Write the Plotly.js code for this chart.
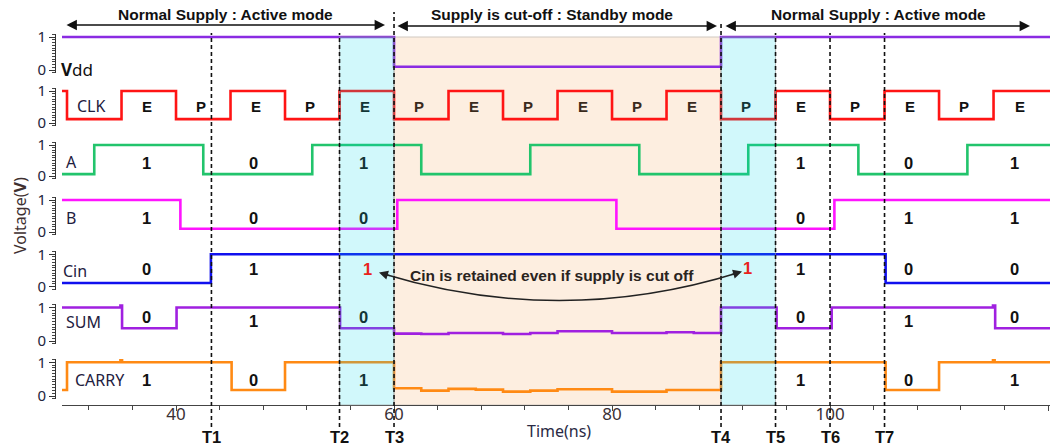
<!DOCTYPE html>
<html>
<head>
<meta charset="utf-8">
<script src="https://cdn.plot.ly/plotly-3.0.1.min.js"></script>
<style>html,body{margin:0;padding:0;background:#fff;}#chart{width:1055px;height:447px;}</style>
</head>
<body>
<div id="chart"></div>
<script>
// ---------------- data (time in ns, voltage normalised) ----------------
const vddT   = [29.54, 60, 90, 120.18];
const vddV   = [1, 0.1, 1, 1];
const clkT   = [29.54, 30, 35, 40, 45, 50, 55, 60, 65, 70, 75, 80, 85, 90, 95, 100, 105, 110, 115, 120.18];
const clkV   = [1, 0.12, 1, 0.12, 1, 0.12, 1, 0.12, 1, 0.12, 1, 0.12, 1, 0.12, 1, 0.12, 1, 0.12, 1, 1];
const aT     = [29.54, 32.5, 42.5, 52.5, 62.5, 72.5, 82.5, 92.5, 102.6, 112.6, 120.18];
const aV     = [0.06, 1, 0.06, 1, 0.06, 1, 0.06, 1, 0.06, 1, 1];
const bT     = [29.54, 40.4, 60.3, 80.4, 100.4, 120.18];
const bV     = [1, 0.1, 1, 0.1, 1, 1];
const cinT   = [29.54, 43.2, 105.1, 120.18];
const cinV   = [0.11, 1, 0.11, 0.11];
const sumT   = [29.54, 34.9, 35.05, 40.05, 55.05, 60, 62.5, 65, 70, 72.5, 75, 80, 85, 87.5, 90, 95.1, 100.15, 114.95, 115.15, 120.18];
const sumV   = [1, 1.08, 0.38, 1, 0.38, 0.22, 0.21, 0.24, 0.21, 0.24, 0.29, 0.24, 0.26, 0.24, 1, 0.38, 1, 1.08, 0.38, 0.38];
const carryT = [29.54, 30, 34.9, 35.05, 45.1, 50, 60, 62.5, 65, 67.5, 70, 72.5, 75, 80, 85, 90, 105.1, 110, 114.95, 115.1, 120.18];
const carryV = [0.18, 1, 1.1, 1, 0.18, 1, 0.23, 0.16, 0.21, 0.19, 0.13, 0.16, 0.2, 0.13, 0.18, 1, 0.18, 1, 1.1, 1, 1];

const signalNames = ['Vdd', 'CLK', 'A', 'B', 'Cin', 'SUM', 'CARRY'];
const markTimes = [43.25, 55, 60, 90, 95, 100, 105];
const markNames = ['T1', 'T2', 'T3', 'T4', 'T5', 'T6', 'T7'];
const xTickVals = [40, 60, 80, 100, 120];

// logic values written in each row (active-mode evaluation windows)
const labelTimes = [37.3, 47.1, 57.2, 97.3, 107.2, 116.9];
const aLabels     = ['1', '0', '1', '1', '0', '1'];
const bLabels     = ['1', '0', '0', '0', '1', '1'];
const cinLabels   = ['0', '1', '1', '1', '0', '0'];
const sumLabels   = ['0', '1', '0', '0', '1', '0'];
const carryLabels = ['1', '0', '1', '1', '0', '1'];
const cinRetainedTimes = [57.6, 92.4];

// ---------------- layout helpers ----------------
const W = 1055, H = 447, ML = 55, MR = 5;
const px = p => (p - ML) / (W - ML - MR);
const py = p => 1 - p / H;

// pixel rows of level "1" and level "0" per panel
const rows = [[37, 70], [91, 123], [145, 176], [200, 232], [254.3, 286.5], [307.5, 341], [362.3, 396]];
const colors = ['#8a2be2', '#ff1414', '#22c46c', '#ff14ff', '#1010ee', '#a020e0', '#ff8a14'];
const series = [[vddT, vddV], [clkT, clkV], [aT, aV], [bT, bV], [cinT, cinV], [sumT, sumV], [carryT, carryV]];

const tickFontCol = '#22243c';
const layout = {
  width: W, height: H, autosize: false,
  margin: {l: ML, r: MR, t: 0, b: 0, pad: 0},
  paper_bgcolor: '#ffffff', plot_bgcolor: 'rgba(0,0,0,0)',
  showlegend: false,
  xaxis: {
    domain: [px(62), 1], range: [29.54, 120.18], anchor: 'free', position: py(405),
    showline: true, linecolor: '#444', linewidth: 1.2, showgrid: false, zeroline: false,
    tickmode: 'array', tickvals: xTickVals, ticks: 'outside', ticklen: 5, tickcolor: '#444',
    minor: {tickmode: 'linear', tick0: 0, dtick: 4, ticks: 'outside', ticklen: 4, tickcolor: '#444', showgrid: false},
    tickfont: {family: 'Noto Sans', size: 17, color: '#3a3034'}, ticklabelstandoff: -12
  },
  shapes: [], annotations: []
};

const traces = [];
rows.forEach((r, i) => {
  const s = r[1] - r[0];
  const top = r[0] - 0.1 * s, bot = r[1] + 0.1 * s;
  const name = i === 0 ? 'yaxis' : 'yaxis' + (i + 1);
  layout[name] = {
    domain: [py(bot), py(top)], range: [-0.1, 1.1], anchor: 'free', position: 0,
    showline: true, linecolor: '#333', linewidth: 1, showgrid: false, zeroline: false,
    tickmode: 'linear', tick0: 0, dtick: 1, ticks: 'outside', ticklen: 6, tickcolor: '#333',
    minor: {tickmode: 'linear', tick0: 0, dtick: 1 / 12, ticks: 'outside', ticklen: 3, tickcolor: '#444', showgrid: false},
    tickfont: {family: 'Noto Sans', size: 15, color: tickFontCol}
  };
  traces.push({
    x: series[i][0], y: series[i][1], type: 'scatter', mode: 'lines', name: signalNames[i],
    xaxis: 'x', yaxis: i === 0 ? 'y' : 'y' + (i + 1),
    line: {color: colors[i], width: 2.6, shape: 'hv'}, hoverinfo: 'skip'
  });
});

// shaded regions
layout.shapes.push({type: 'rect', xref: 'x', yref: 'paper', x0: markTimes[2], x1: markTimes[3], y0: py(405), y1: py(37),
  fillcolor: '#fdeee0', line: {color: '#d0c8c0', width: 1}, layer: 'below'});
[[markTimes[1], markTimes[2]], [markTimes[3], markTimes[4]]].forEach(p => {
  layout.shapes.push({type: 'rect', xref: 'x', yref: 'paper', x0: p[0], x1: p[1], y0: py(405), y1: py(37),
    fillcolor: 'rgba(0,215,232,0.18)', line: {color: 'rgba(150,150,150,0.6)', width: 1}, layer: 'above'});
});
// dashed markers
const markTop = [33, 33, 12, 21, 33, 33, 33];
markTimes.forEach((t, i) => {
  layout.shapes.push({type: 'line', xref: 'x', yref: 'paper', x0: t, x1: t, y0: py(427), y1: py(markTop[i]),
    line: {color: '#111', width: 1.6, dash: '4px,3px'}, layer: 'above'});
  layout.annotations.push({xref: 'x', yref: 'paper', x: t, y: py(437), text: '<b>' + markNames[i] + '</b>', showarrow: false,
    font: {family: 'Liberation Sans', size: 16.5, color: '#111'}, xanchor: 'center', yanchor: 'middle'});
});

const bold = {family: 'Liberation Sans', size: 15.5, color: '#111'};
// top mode arrows and captions
const modes = [
  {text: 'Normal Supply : Active mode', cx: 225, a0: 65, a1: 385, ay: 25},
  {text: 'Supply is cut-off : Standby mode', cx: 552, a0: 396, a1: 717, ay: 26},
  {text: 'Normal Supply : Active mode', cx: 878, a0: 724, a1: 1030, ay: 26}
];
modes.forEach(m => {
  layout.annotations.push({xref: 'paper', yref: 'paper', x: px(m.cx), y: py(15), text: '<b>' + m.text + '</b>',
    showarrow: false, font: bold, xanchor: 'center', yanchor: 'middle'});
  layout.annotations.push({xref: 'paper', yref: 'paper', x: px(m.a1), y: py(m.ay), ax: -(m.a1 - m.a0), ay: 0,
    text: '', showarrow: true, arrowside: 'end+start', arrowhead: 2, startarrowhead: 2, arrowsize: 1.3, startarrowsize: 1.3,
    arrowwidth: 1.6, arrowcolor: '#111'});
});

// row names
const nameFont = {family: 'Noto Sans', size: 16, color: '#1e2040'};
const namePos = [[59, 69], [75, 106], [64, 162], [64, 218], [61, 271], [64, 322], [73, 380]];
signalNames.forEach((n, i) => {
  const txt = n === 'Vdd' ? '<b>V</b>dd' : n;
  layout.annotations.push({xref: 'paper', yref: 'paper', x: px(namePos[i][0]), y: py(namePos[i][1]), text: txt,
    showarrow: false, font: Object.assign({}, nameFont, n === 'Vdd' ? {size: 17, color: '#111'} : {}), xanchor: 'left', yanchor: 'middle'});
});

// E / P labels on clock phases
const inRange = (t, a, b) => t > a && t < b;
for (let k = 1; k < clkT.length - 1; k++) {
  const mid = (clkT[k] + clkT[k + 1]) / 2;
  if (mid < 35 || mid > 120) continue;
  const txt = clkV[k] > 0.5 ? 'E' : 'P';
  let col = '#111';
  if (inRange(mid, markTimes[2], markTimes[3])) col = '#3a2a1c';
  if (inRange(mid, markTimes[1], markTimes[2]) || inRange(mid, markTimes[3], markTimes[4])) col = '#123636';
  layout.annotations.push({xref: 'x', yref: 'y2', x: mid - 0.2, y: 0.5, text: '<b>' + txt + '</b>', showarrow: false,
    font: {family: 'Liberation Sans', size: 15, color: col}, xanchor: 'center', yanchor: 'middle'});
}

// logic value labels
const digitFont = {family: 'Liberation Sans', size: 16.5, color: '#111'};
const rowLabels = [[aLabels, 'y3', 0.42], [bLabels, 'y4', 0.44], [cinLabels, 'y5', 0.55], [sumLabels, 'y6', 0.72], [carryLabels, 'y7', 0.47]];
rowLabels.forEach(rl => {
  rl[0].forEach((txt, j) => {
    let yv = rl[2];
    if (rl[1] === 'y6' && txt === '1') yv = 0.6;
    let t = labelTimes[j];
    let col = '#111';
    if (rl[1] === 'y5' && j === 2) { t = cinRetainedTimes[0]; col = '#e8231c'; }
    if (inRange(t, markTimes[1], markTimes[2])) col = (col === '#e8231c') ? col : '#123636';
    layout.annotations.push({xref: 'x', yref: rl[1], x: t, y: yv, text: '<b>' + txt + '</b>', showarrow: false,
      font: Object.assign({}, digitFont, {color: col}), xanchor: 'center', yanchor: 'middle'});
  });
});
// retained Cin in second cyan window
layout.annotations.push({xref: 'x', yref: 'y5', x: cinRetainedTimes[1], y: 0.58, text: '<b>1</b>', showarrow: false,
  font: Object.assign({}, digitFont, {color: '#e8231c'}), xanchor: 'center', yanchor: 'middle'});

// retention note with curved double arrow
layout.annotations.push({xref: 'paper', yref: 'paper', x: px(552), y: py(275), text: '<b>Cin is retained even if supply is cut off</b>',
  showarrow: false, font: {family: 'Liberation Sans', size: 15.5, color: '#2a241e'}, xanchor: 'center', yanchor: 'middle'});
layout.shapes.push({type: 'path', xref: 'paper', yref: 'paper',
  path: 'M ' + px(382) + ',' + py(273.5) + ' Q ' + px(561) + ',' + py(328) + ' ' + px(739) + ',' + py(272.5),
  line: {color: '#222', width: 1.5}, layer: 'above'});
layout.annotations.push({xref: 'paper', yref: 'paper', x: px(379), y: py(272.5), ax: 12, ay: 3.6, text: '', showarrow: true,
  arrowhead: 2, arrowsize: 1.2, arrowwidth: 1.5, arrowcolor: '#222'});
layout.annotations.push({xref: 'paper', yref: 'paper', x: px(742), y: py(271.5), ax: -12, ay: 3.6, text: '', showarrow: true,
  arrowhead: 2, arrowsize: 1.2, arrowwidth: 1.5, arrowcolor: '#222'});

// axis titles
layout.annotations.push({xref: 'paper', yref: 'paper', x: px(20), y: py(216), text: 'Voltage(<b>V</b>)', textangle: -90,
  showarrow: false, font: {family: 'Noto Sans', size: 16, color: '#3e3030'}, xanchor: 'center', yanchor: 'middle'});
layout.annotations.push({xref: 'paper', yref: 'paper', x: px(559), y: py(431), text: 'Time(ns)',
  showarrow: false, font: {family: 'Noto Sans', size: 16, color: '#2a2a44'}, xanchor: 'center', yanchor: 'middle'});

Plotly.newPlot('chart', traces, layout, {displayModeBar: false, staticPlot: true});
</script>
</body>
</html>
